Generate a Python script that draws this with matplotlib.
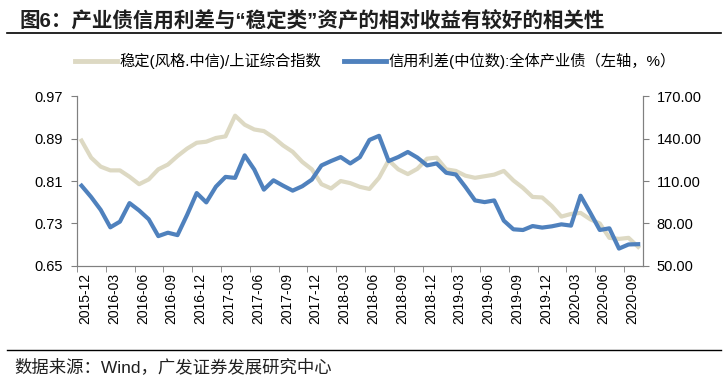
import numpy as np
import pandas as pd
import matplotlib
matplotlib.use("Agg")
import matplotlib.pyplot as plt
from matplotlib.lines import Line2D
from matplotlib.ticker import FormatStrFormatter

plt.rcParams['font.family'] = ['Liberation Sans', 'Noto Sans CJK SC', 'DejaVu Sans']

# monthly, 2015-12 .. 2020-10
months = pd.period_range('2015-12', '2020-10', freq='M').strftime('%Y-%m').tolist()

# 稳定(风格.中信)/上证综合指数 (left axis)
stable_ratio = [0.886, 0.854, 0.837, 0.830, 0.830, 0.818, 0.804, 0.813, 0.832, 0.841,
                0.857, 0.871, 0.882, 0.884, 0.891, 0.894, 0.933, 0.916, 0.907, 0.904,
                0.892, 0.877, 0.865, 0.846, 0.832, 0.804, 0.796, 0.810, 0.806, 0.799,
                0.795, 0.816, 0.849, 0.832, 0.823, 0.833, 0.852, 0.854, 0.832, 0.829,
                0.820, 0.816, 0.819, 0.822, 0.829, 0.811, 0.797, 0.780, 0.779, 0.763,
                0.743, 0.748, 0.750, 0.738, 0.730, 0.703, 0.701, 0.703, 0.686]

# 信用利差(中位数):全体产业债 (right axis)
credit_spread = [106.7, 98.7, 89.6, 77.3, 81.3, 94.4, 89.2, 83.0, 71.1, 73.5,
                 71.8, 86.1, 101.5, 94.9, 106.0, 112.9, 112.2, 128.1, 118.1, 103.9,
                 110.5, 106.7, 103.2, 106.3, 111.0, 121.0, 124.1, 126.9, 122.4, 126.8,
                 139.0, 141.9, 124.1, 126.9, 130.5, 126.5, 121.0, 122.4, 115.8, 114.6,
                 105.8, 96.3, 95.1, 96.3, 82.0, 75.9, 75.4, 78.2, 77.1, 78.0,
                 79.4, 78.5, 99.6, 87.7, 75.4, 76.6, 62.3, 65.2, 65.4]

left_ticks = [0.65, 0.73, 0.81, 0.89, 0.97]
right_ticks = [50, 80, 110, 140, 170]

title = '图6：产业债信用利差与“稳定类”资产的相对收益有较好的相关性'
label_stable = '稳定(风格.中信)/上证综合指数'
label_spread = '信用利差(中位数):全体产业债（左轴，%）'
source = '数据来源：Wind，广发证券发展研究中心'

beige = '#DDD9C3'
blue = '#4F81BD'
grey = '#808080'

fig = plt.figure(figsize=(7.28, 3.83), dpi=100)
ax = fig.add_axes([0.1058, 0.3055, 0.7774, 0.4438])
ax2 = ax.twinx()

x = np.arange(len(months))
ax.plot(x, stable_ratio, color=beige, lw=3.0, solid_joinstyle='round')
ax2.plot(x, credit_spread, color=blue, lw=3.0, solid_joinstyle='round')

ax.set_xlim(-0.47, len(months) - 0.5)
ax.set_ylim(0.65, 0.97)
ax.set_yticks(left_ticks)
ax.yaxis.set_major_formatter(FormatStrFormatter('%.2f'))
ax2.set_ylim(50, 170)
ax2.set_yticks(right_ticks)
ax2.yaxis.set_major_formatter(FormatStrFormatter('%.2f'))

# labels every quarter, tick marks between categories
lab_pos = np.arange(0, len(months), 3)
ax.set_xticks(lab_pos + 0.4)
ax.set_xticklabels([months[i] for i in lab_pos], rotation=90, fontsize=10)
ax.set_xticks(np.arange(0, len(months) + 1, 3) - 0.47, minor=True)
ax.tick_params(axis='x', which='major', length=0, pad=5)
ax.tick_params(axis='x', which='minor', length=4, color=grey, direction='out')

for a in (ax, ax2):
    for s in a.spines.values():
        s.set_color(grey)
    a.spines['top'].set_visible(False)
ax.tick_params(axis='y', length=4, color=grey, labelsize=10.5, pad=6)
ax2.tick_params(axis='y', length=4, color=grey, labelsize=10.5, pad=6)

fig.text(0.027, 0.945, title, fontsize=14.8, fontweight='bold', color='#1F1F1F',
         va='center', ha='left')
fig.add_artist(Line2D([0.01, 0.99], [0.913, 0.913], color='black', lw=1.2))
fig.add_artist(Line2D([0.01, 0.99], [0.086, 0.086], color='black', lw=1.0))
fig.text(0.02, 0.042, source, fontsize=12.5, color='#1F1F1F', va='center', ha='left')

handles = [Line2D([], [], color=beige, lw=3.5), Line2D([], [], color=blue, lw=3.5)]
fig.legend(handles, [label_stable, label_spread], loc='center', ncol=2,
           bbox_to_anchor=(0.516, 0.84), frameon=False, fontsize=11,
           handlelength=2.7, handletextpad=0.2, columnspacing=1.5)

fig.savefig('out.png', dpi=100)
